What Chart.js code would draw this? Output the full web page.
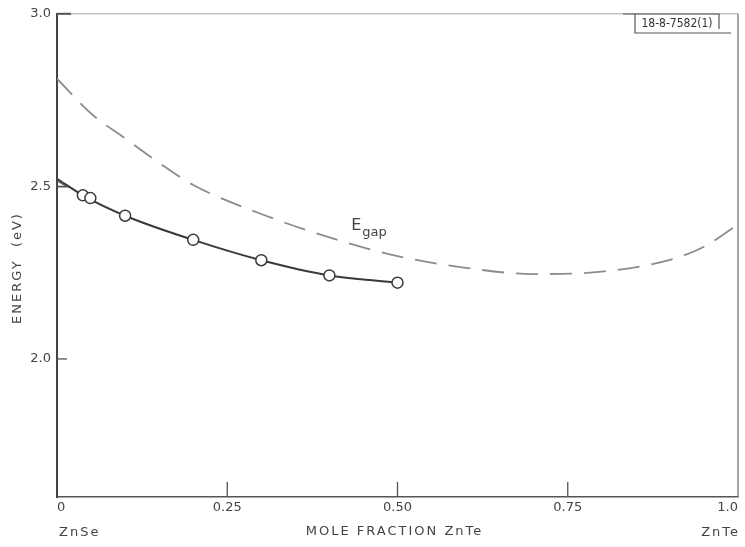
<!DOCTYPE html>
<html>
<head>
<meta charset="utf-8">
<script src="https://cdn.jsdelivr.net/npm/chart.js@4.4.1/dist/chart.umd.min.js"></script>
<style>
  html,body{margin:0;padding:0;background:#fff;}
  #wrap{width:745px;height:547px;position:relative;}
</style>
</head>
<body>
<div id="wrap"><canvas id="c"></canvas></div>
<script>
/* ── DATA ── */
const measX = [0.038, 0.049, 0.10, 0.20, 0.30, 0.40, 0.50];
const measE = [2.474, 2.466, 2.415, 2.345, 2.286, 2.242, 2.221];

const fitX  = [0, 0.038, 0.10, 0.20, 0.30, 0.40, 0.50];
const fitE  = [2.522, 2.474, 2.415, 2.345, 2.286, 2.242, 2.221];

const gapX  = [0, 0.05, 0.10, 0.15, 0.20, 0.30, 0.40, 0.50, 0.60, 0.70, 0.80, 0.90, 0.95, 1.0];
const gapE  = [2.812, 2.711, 2.639, 2.568, 2.504, 2.420, 2.352, 2.298, 2.264, 2.246, 2.253, 2.287, 2.325, 2.390];

const xTicks      = [0, 0.25, 0.5, 0.75, 1.0];
const xTickLabels = ['0', '0.25', '0.50', '0.75', '1.0'];
const yTicks      = [2.0, 2.5, 3.0];
const yTickLabels = ['2.0', '2.5', '3.0'];

const FONT = 'DejaVu Sans';
const INK  = '#444';

const pts = (xs, ys) => xs.map((x,i)=>({x, y:ys[i]}));

/* ── decorations: frame, inward ticks, titles, labels ── */
const decor = {
  id:'decor',
  afterDraw(chart) {
    const {ctx, chartArea:a, scales:{x, y}} = chart;
    ctx.save();
    // top + right frame
    ctx.strokeStyle = '#c4c4c4'; ctx.lineWidth = 1.5;
    ctx.beginPath(); ctx.moveTo(a.left, a.top); ctx.lineTo(a.right, a.top); ctx.stroke();
    ctx.strokeStyle = '#8a8a8a';
    ctx.beginPath(); ctx.moveTo(a.right, a.top); ctx.lineTo(a.right, a.bottom); ctx.stroke();
    ctx.strokeStyle = '#555'; ctx.lineWidth = 2;
    ctx.beginPath(); ctx.moveTo(a.left, a.top); ctx.lineTo(a.left+14, a.top); ctx.stroke();

    // inward tick marks
    ctx.strokeStyle = '#555'; ctx.lineWidth = 1.3;
    xTicks.slice(1,-1).forEach(v=>{
      const px = x.getPixelForValue(v);
      ctx.beginPath(); ctx.moveTo(px, a.bottom); ctx.lineTo(px, a.bottom-15); ctx.stroke();
    });
    yTicks.slice(0,-1).forEach(v=>{
      const py = y.getPixelForValue(v);
      ctx.beginPath(); ctx.moveTo(a.left, py); ctx.lineTo(a.left+10, py); ctx.stroke();
    });
    // small arrow mark at the intercept
    const py0 = y.getPixelForValue(fitE[0]);
    ctx.beginPath();
    ctx.moveTo(a.left, py0+2); ctx.lineTo(a.left+10, py0+8); ctx.lineTo(a.left, py0+8);
    ctx.stroke();

    // axis titles
    ctx.fillStyle = INK;
    ctx.font = `13px "${FONT}"`;
    ctx.letterSpacing = '2px';
    ctx.textBaseline = 'middle';
    ctx.textAlign = 'center';
    ctx.fillText('MOLE FRACTION ZnTe', (a.left+a.right)/2 - 3, 532);
    ctx.textAlign = 'left';
    ctx.fillText('ZnSe', a.left+2, 533);
    ctx.textAlign = 'right';
    ctx.fillText('ZnTe', a.right+2, 533);

    ctx.save();
    ctx.translate(18, 268);
    ctx.rotate(-Math.PI/2);
    ctx.textAlign = 'center';
    ctx.fillText('ENERGY  (eV)', 0, 0);
    ctx.restore();

    // E_gap label
    ctx.letterSpacing = '0px';
    ctx.textAlign = 'left';
    const lx = x.getPixelForValue(0.432), ly = y.getPixelForValue(2.385);
    ctx.font = `16px "${FONT}"`;
    ctx.fillText('E', lx, ly);
    ctx.font = `13px "${FONT}"`;
    ctx.fillText('gap', lx+11, ly+7);

    // drawing number box
    ctx.strokeStyle = '#555'; ctx.lineWidth = 1.2;
    ctx.beginPath();
    ctx.moveTo(623, 14); ctx.lineTo(719, 14); ctx.lineTo(719, 29);
    ctx.moveTo(635, 14); ctx.lineTo(635, 33); ctx.lineTo(731, 33);
    ctx.stroke();
    ctx.font = `12px "DejaVu Sans Condensed", "${FONT}"`;
    ctx.letterSpacing = '0px';
    ctx.fillStyle = '#333';
    ctx.textAlign = 'center';
    ctx.fillText('18-8-7582(1)', 677, 24);
    ctx.restore();
  }
};

new Chart(document.getElementById('c').getContext('2d'), {
  type:'scatter',
  data:{
    datasets:[
      { label:'Egap', data:pts(gapX, gapE), showLine:true, borderColor:'#8c8c8c',
        borderWidth:1.8, borderDash:[22,12], pointRadius:0, cubicInterpolationMode:'monotone', order:3 },
      { label:'fit', data:pts(fitX, fitE), showLine:true, borderColor:'#3a3a3a',
        borderWidth:2, pointRadius:0, cubicInterpolationMode:'monotone', order:2 },
      { label:'measured', data:pts(measX, measE), showLine:false, pointRadius:5.5,
        pointBackgroundColor:'#fff', pointBorderColor:'#3a3a3a', pointBorderWidth:1.5, order:1 }
    ]
  },
  options:{
    responsive:true, maintainAspectRatio:false, animation:false,
    layout:{ padding:{ left:0, right:3, top:10, bottom:0 } },
    plugins:{ legend:{display:false}, tooltip:{enabled:false} },
    scales:{
      x:{ type:'linear', min:0, max:1,
        afterBuildTicks:s=>{ s.ticks = xTicks.map(v=>({value:v})); },
        afterFit:s=>{ s.height = 50; },
        ticks:{ callback:(v,i)=>xTickLabels[i], align:'inner', autoSkip:false, maxRotation:0,
                color:INK, font:{family:FONT, size:13}, padding:3 },
        grid:{ display:false, drawTicks:false },
        border:{ color:'#555', width:1.5 } },
      y:{ min:1.6, max:3.0,
        afterBuildTicks:s=>{ s.ticks = yTicks.map(v=>({value:v})); },
        afterFit:s=>{ s.width = 57; },
        ticks:{ callback:(v,i)=>yTickLabels[i], color:INK, font:{family:FONT, size:13}, padding:6 },
        grid:{ display:false, drawTicks:false },
        border:{ color:'#444', width:2 } }
    }
  },
  plugins:[decor]
});
</script>
</body>
</html>
